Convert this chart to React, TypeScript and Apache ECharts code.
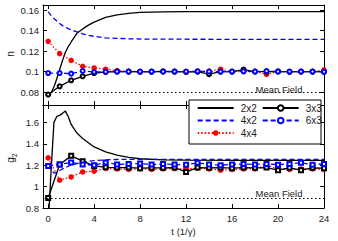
import React, { useEffect, useRef } from 'react';
import * as echarts from 'echarts';

// Legend / series names
const seriesNames = ['2x2', '3x3', '4x2', '6x3', '4x4'];

// Continuous-curve time samples (t in 1/gamma)
const tFine = [0, 0.25, 0.5, 0.75, 1, 1.25, 1.5, 1.75, 2, 2.5, 3, 3.5, 4, 5, 6, 7, 8, 10, 12, 16, 20, 24];
const n2x2 = [0.0775, 0.079, 0.085, 0.093, 0.102, 0.111, 0.119, 0.1245, 0.129, 0.1375, 0.1418, 0.1455, 0.1485, 0.153, 0.1555, 0.157, 0.158, 0.1585, 0.1587, 0.1588, 0.1588, 0.1588];
const n4x2 = [0.1585, 0.155, 0.152, 0.1495, 0.147, 0.145, 0.1435, 0.142, 0.1408, 0.1388, 0.137, 0.1355, 0.1345, 0.133, 0.1325, 0.1321, 0.1319, 0.1317, 0.1317, 0.1316, 0.1316, 0.1316];
const g2x2 = [0.64, 1.14, 1.6, 1.655, 1.665, 1.684, 1.705, 1.652, 1.58, 1.5, 1.45, 1.41, 1.37, 1.325, 1.293, 1.272, 1.26, 1.25, 1.247, 1.245, 1.245, 1.245];
const g4x2 = [1.2, 1.16, 1.125, 1.13, 1.15, 1.165, 1.178, 1.19, 1.2, 1.215, 1.228, 1.236, 1.242, 1.25, 1.253, 1.255, 1.255, 1.255, 1.255, 1.255, 1.255, 1.255];

// Marker series: integer time steps
const tSteps = [0, 1, 2, 3, 4, 5, 6, 7, 8, 9, 10, 11, 12, 13, 14, 15, 16, 17, 18, 19, 20, 21, 22, 23, 24];
const n3x3 = [0.0775, 0.0856, 0.0915, 0.0954, 0.0986, 0.0996, 0.1, 0.1, 0.0998, 0.1, 0.1002, 0.1, 0.0998, 0.1, 0.0975, 0.1, 0.1, 0.102, 0.1, 0.1, 0.1002, 0.0998, 0.1, 0.1, 0.0998];
const n6x3 = [0.0986, 0.0986, 0.098, 0.1006, 0.0996, 0.0998, 0.1, 0.1, 0.1, 0.1, 0.1, 0.1, 0.1, 0.1003, 0.1, 0.1, 0.1, 0.1003, 0.1, 0.1005, 0.1, 0.1, 0.1, 0.1, 0.0998];
const n4x4 = [0.1297, 0.1176, 0.111, 0.1052, 0.1036, 0.1023, 0.101, 0.1003, 0.1, 0.0998, 0.1, 0.1003, 0.0995, 0.1, 0.1005, 0.1023, 0.1, 0.1, 0.1, 0.0974, 0.1, 0.1, 0.1, 0.1, 0.1017];
const g3x3 = [0.894, 1.207, 1.287, 1.237, 1.193, 1.18, 1.178, 1.178, 1.172, 1.175, 1.175, 1.178, 1.137, 1.178, 1.175, 1.178, 1.172, 1.178, 1.175, 1.178, 1.153, 1.175, 1.153, 1.175, 1.172];
const g6x3 = [1.193, 1.207, 1.225, 1.207, 1.2, 1.225, 1.207, 1.212, 1.215, 1.207, 1.21, 1.207, 1.205, 1.222, 1.207, 1.2, 1.207, 1.212, 1.207, 1.212, 1.205, 1.212, 1.222, 1.205, 1.212];
const g4x4 = [1.268, 1.06, 1.09, 1.137, 1.144, 1.169, 1.165, 1.16, 1.165, 1.16, 1.165, 1.168, 1.165, 1.172, 1.165, 1.153, 1.16, 1.165, 1.165, 1.2, 1.165, 1.16, 1.165, 1.165, 1.16];

// Mean-field reference levels
const meanFieldN = 0.078;
const meanFieldG2 = 0.885;

// Axis ranges
const tRange = [-0.45, 24];
const nRange = [0.0673, 0.1652];
const g2Range = [0.8, 1.762];

const FONT = 'Liberation Sans, Arial, Helvetica, sans-serif';
const TXT = '#1a1a1a';
const BLUE = '#0000ff';
const RED = '#ff0000';
const BLACK = '#000000';

const pair = (xs: number[], ys: number[]) => xs.map((x, i) => [x, ys[i]]);

export default function App() {
  const ref = useRef<HTMLDivElement>(null);

  useEffect(() => {
    if (!ref.current) return;
    const chart = echarts.init(ref.current, undefined, { renderer: 'svg' });

    const tick = { show: true, inside: true, length: 4, lineStyle: { color: BLACK, width: 1 } };
    const line = { show: true, onZero: false, lineStyle: { color: BLACK, width: 1 } };

    const xAxisBase = (gridIndex: number, position: string, labels: boolean) => ({
      type: 'value',
      gridIndex,
      position,
      min: tRange[0],
      max: tRange[1],
      splitNumber: 6,
      minInterval: 4,
      maxInterval: 4,
      axisLine: line,
      axisTick: tick,
      splitLine: { show: false },
      axisLabel: {
        show: labels,
        showMinLabel: false,
        margin: 5,
        fontSize: 9.5,
        fontFamily: FONT,
        color: TXT,
      },
    });

    const yAxisBase = (gridIndex: number, position: string, labels: boolean, range: number[], showMin: boolean) => ({
      type: 'value',
      gridIndex,
      position,
      min: range[0],
      max: range[1],
      splitNumber: 5,
      axisLine: line,
      axisTick: tick,
      splitLine: { show: false },
      axisLabel: {
        show: labels,
        showMinLabel: showMin,
        showMaxLabel: false,
        margin: 4,
        fontSize: 9.5,
        fontFamily: FONT,
        color: TXT,
      },
    });

    const meanLine = (v: number) => ({
      silent: true,
      symbol: 'none',
      label: { show: false },
      lineStyle: { type: [1.5, 2.5], color: BLACK, width: 1.2 },
      data: [{ yAxis: v }],
    });

    const base = { type: 'line', smooth: false };
    const hiddenSymbol = { opacity: 0 };

    const legendBase = {
      orient: 'vertical',
      top: 103,
      padding: 0,
      itemWidth: 36,
      itemHeight: 7,
      itemGap: 2.5,
      selectedMode: false,
      z: 20,
      textStyle: { fontSize: 10, fontFamily: FONT, color: TXT, padding: [0, 0, 0, 2] },
    };

    const option = {
      animation: false,
      backgroundColor: '#ffffff',
      grid: [
        { left: 43, top: 5, width: 281, height: 100 },
        { left: 43, top: 105, width: 281, height: 103 },
      ],
      xAxis: [
        xAxisBase(0, 'bottom', false),
        {
          ...xAxisBase(1, 'bottom', true),
          name: 't (1/\u03b3)',
          nameLocation: 'middle',
          nameGap: 18,
          nameTextStyle: { fontSize: 9.5, fontFamily: FONT, color: TXT },
        },
        xAxisBase(0, 'top', false),
        xAxisBase(1, 'top', false),
      ],
      yAxis: [
        yAxisBase(0, 'left', true, nRange, false),
        yAxisBase(1, 'left', true, g2Range, true),
        yAxisBase(0, 'right', false, nRange, false),
        yAxisBase(1, 'right', false, g2Range, false),
      ],
      legend: [
        {
          ...legendBase,
          left: 196.7,
          data: [
            { name: seriesNames[0], itemStyle: hiddenSymbol },
            { name: seriesNames[2], itemStyle: hiddenSymbol },
            { name: seriesNames[4] },
          ],
        },
        {
          ...legendBase,
          left: 261.7,
          data: [{ name: seriesNames[1] }, { name: seriesNames[3] }],
        },
      ],
      graphic: {
        elements: [
          {
            type: 'rect',
            z: 10,
            shape: { x: 189, y: 100, width: 132, height: 44 },
            style: { fill: '#ffffff', stroke: BLACK, lineWidth: 1 },
          },
          {
            type: 'text',
            x: 279,
            y: 89.5,
            z: 10,
            style: { text: 'Mean Field', fontSize: 9.5, fontFamily: FONT, fill: TXT, align: 'center', verticalAlign: 'middle', textAlign: 'center', textVerticalAlign: 'middle' },
          },
          {
            type: 'text',
            x: 279,
            y: 193.5,
            z: 10,
            style: { text: 'Mean Field', fontSize: 9.5, fontFamily: FONT, fill: TXT, align: 'center', verticalAlign: 'middle', textAlign: 'center', textVerticalAlign: 'middle' },
          },
          {
            type: 'text',
            x: 10.5,
            y: 54,
            rotation: Math.PI / 2,
            style: { text: 'n', fontSize: 10, fontFamily: FONT, fill: TXT, align: 'center', verticalAlign: 'middle', textAlign: 'center', textVerticalAlign: 'middle' },
          },
          {
            type: 'text',
            x: 10.5,
            y: 158,
            rotation: Math.PI / 2,
            style: {
              text: '{a|g}{b|2}',
              fontFamily: FONT,
              fill: TXT,
              align: 'center',
              verticalAlign: 'middle',
              textAlign: 'center',
              textVerticalAlign: 'middle',
              rich: {
                a: { fontSize: 10, fontFamily: FONT, fill: TXT, lineHeight: 14, verticalAlign: 'middle' },
                b: { fontSize: 7, fontFamily: FONT, fill: TXT, lineHeight: 14, verticalAlign: 'bottom' },
              },
            },
          },
        ],
      },
      series: [
        // ---- top panel: n ----
        {
          ...base,
          name: seriesNames[0],
          xAxisIndex: 0,
          yAxisIndex: 0,
          data: pair(tFine, n2x2),
          symbol: 'none',
          color: BLACK,
          lineStyle: { color: BLACK, width: 1.3, type: 'solid' },
          markLine: meanLine(meanFieldN),
        },
        {
          ...base,
          name: seriesNames[2],
          xAxisIndex: 0,
          yAxisIndex: 0,
          data: pair(tFine, n4x2),
          symbol: 'none',
          color: BLUE,
          lineStyle: { color: BLUE, width: 1.3, type: [5, 3] },
        },
        {
          ...base,
          name: seriesNames[4],
          xAxisIndex: 0,
          yAxisIndex: 0,
          data: pair(tSteps, n4x4),
          symbol: 'circle',
          symbolSize: 5.5,
          color: RED,
          itemStyle: { color: RED },
          lineStyle: { color: RED, width: 1.3, type: [1.5, 2] },
        },
        {
          ...base,
          name: seriesNames[1],
          xAxisIndex: 0,
          yAxisIndex: 0,
          data: pair(tSteps, n3x3),
          symbol: 'emptyCircle',
          symbolSize: 4,
          color: BLACK,
          itemStyle: { color: BLACK, borderWidth: 1.1 },
          lineStyle: { color: BLACK, width: 1.3, type: 'solid' },
        },
        {
          ...base,
          name: seriesNames[3],
          xAxisIndex: 0,
          yAxisIndex: 0,
          data: pair(tSteps, n6x3),
          symbol: 'emptyCircle',
          symbolSize: 4,
          color: BLUE,
          itemStyle: { color: BLUE, borderWidth: 1.1 },
          lineStyle: { color: BLUE, width: 1.3, type: [5, 3] },
        },
        // ---- bottom panel: g2 ----
        {
          ...base,
          name: seriesNames[0],
          xAxisIndex: 1,
          yAxisIndex: 1,
          data: pair(tFine, g2x2),
          symbol: 'none',
          color: BLACK,
          lineStyle: { color: BLACK, width: 1.3, type: 'solid' },
          markLine: meanLine(meanFieldG2),
        },
        {
          ...base,
          name: seriesNames[2],
          xAxisIndex: 1,
          yAxisIndex: 1,
          data: pair(tFine, g4x2),
          symbol: 'none',
          color: BLUE,
          lineStyle: { color: BLUE, width: 1.3, type: [5, 3] },
        },
        {
          ...base,
          name: seriesNames[4],
          xAxisIndex: 1,
          yAxisIndex: 1,
          data: pair(tSteps, g4x4),
          symbol: 'circle',
          symbolSize: 5.5,
          color: RED,
          itemStyle: { color: RED },
          lineStyle: { color: RED, width: 1.3, type: [1.5, 2] },
        },
        {
          ...base,
          name: seriesNames[1],
          xAxisIndex: 1,
          yAxisIndex: 1,
          data: pair(tSteps, g3x3),
          symbol: 'emptyRect',
          symbolSize: 4,
          color: BLACK,
          itemStyle: { color: BLACK, borderWidth: 1.1 },
          lineStyle: { color: BLACK, width: 1.3, type: 'solid' },
        },
        {
          ...base,
          name: seriesNames[3],
          xAxisIndex: 1,
          yAxisIndex: 1,
          data: pair(tSteps, g6x3),
          symbol: 'emptyRect',
          symbolSize: 4,
          color: BLUE,
          itemStyle: { color: BLUE, borderWidth: 1.1 },
          lineStyle: { color: BLUE, width: 1.3, type: [5, 3] },
        },
      ],
    };

    chart.setOption(option as any);
    return () => {
      chart.dispose();
    };
  }, []);

  return (
    <div
      ref={ref}
      style={{ position: 'fixed', left: 0, top: 0, width: 338, height: 241, background: '#fff' }}
    />
  );
}
